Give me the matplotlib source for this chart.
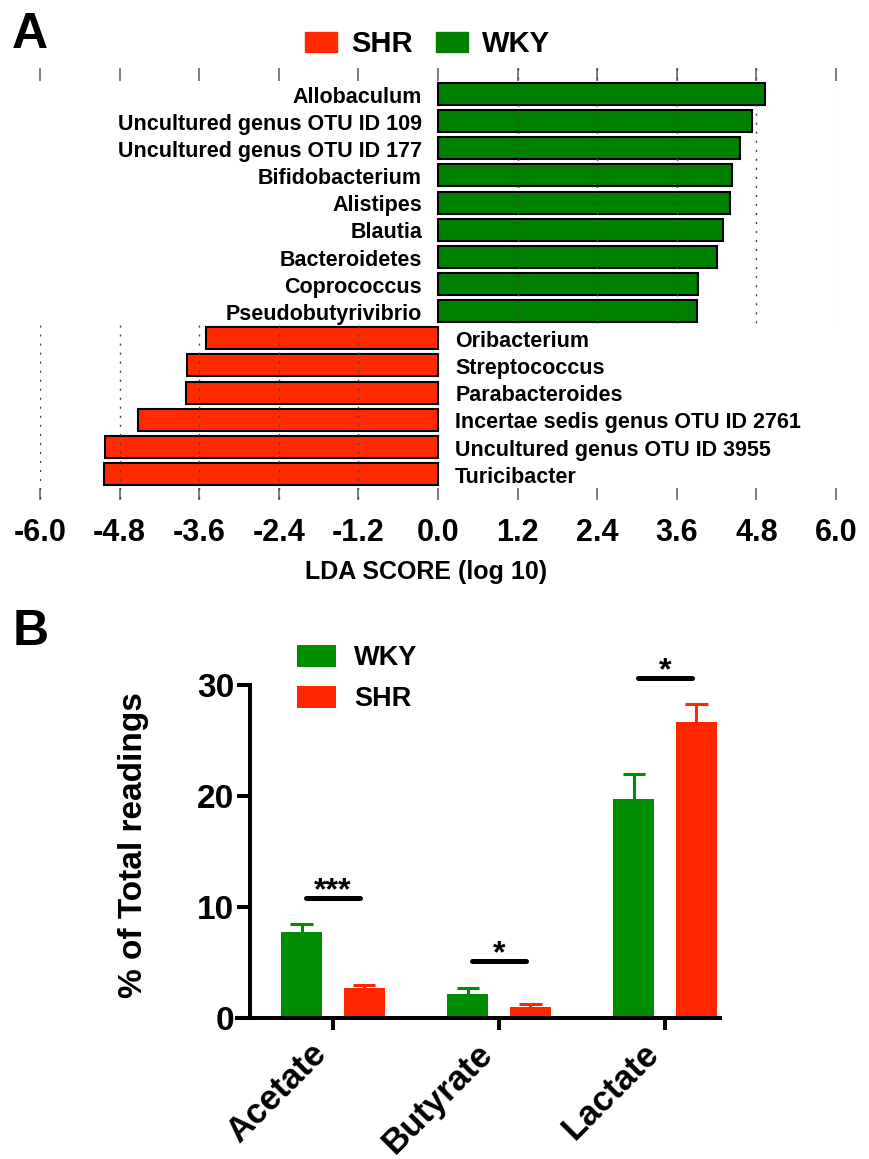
import matplotlib
matplotlib.use("Agg")
import matplotlib.pyplot as plt
from matplotlib.patches import Patch
import numpy as np

plt.rcParams['font.family'] = ['Liberation Sans', 'DejaVu Sans']
plt.rcParams['font.weight'] = 'bold'
plt.rcParams['axes.labelweight'] = 'bold'
plt.rcParams['axes.unicode_minus'] = False

W, H = 869, 1159

# panel A: LEfSe LDA scores
wky_taxa = ["Allobaculum", "Uncultured genus OTU ID 109", "Uncultured genus OTU ID 177",
            "Bifidobacterium", "Alistipes", "Blautia", "Bacteroidetes", "Coprococcus",
            "Pseudobutyrivibrio"]
wky_lda = [4.93, 4.73, 4.55, 4.43, 4.40, 4.30, 4.21, 3.92, 3.91]
shr_taxa = ["Oribacterium", "Streptococcus", "Parabacteroides",
            "Incertae sedis genus OTU ID 2761", "Uncultured genus OTU ID 3955", "Turicibacter"]
shr_lda = [-3.50, -3.78, -3.80, -4.53, -5.02, -5.04]
lda_ticks = [-6.0, -4.8, -3.6, -2.4, -1.2, 0.0, 1.2, 2.4, 3.6, 4.8, 6.0]

# panel B: SCFA readings
acids = ["Acetate", "Butyrate", "Lactate"]
wky_mean = [7.75, 2.15, 19.7]
wky_sem = [0.7, 0.55, 2.3]
shr_mean = [2.7, 1.0, 26.7]
shr_sem = [0.3, 0.3, 1.6]
stars = ["***", "*", "*"]
star_y = [10.8, 5.1, 30.6]
b_ticks = [0, 10, 20, 30]

green_a, red_a = '#008000', '#FF2A00'
green_b, red_b = '#008C00', '#FF2600'


def frac(l, t, r, b):
    return [l / W, 1 - b / H, (r - l) / W, (b - t) / H]


fig = plt.figure(figsize=(W / 100, H / 100), dpi=100)

# ---------------- A ----------------
ax = fig.add_axes(frac(40, 68, 836, 500))
n_w = len(wky_taxa)
rows_w = np.arange(n_w)
rows_s = np.arange(len(shr_taxa)) + n_w
ax.barh(rows_w, wky_lda, height=0.81, color=green_a, edgecolor='black', linewidth=1.5, zorder=2)
ax.barh(rows_s, shr_lda, height=0.81, color=red_a, edgecolor='black', linewidth=1.5, zorder=2)
ymax = rows_s[-1] + 0.958
ymin = -0.958
split = n_w - 0.5
for t in lda_ticks:
    a = 0.35 if t == 6.0 else 1.0
    if t < 0:
        ax.vlines(t, split, ymax, colors='#444444', linewidth=1.0, linestyles=(0, (1.5, 5)), zorder=3)
    elif t > 0:
        ax.vlines(t, ymin, split, colors='#444444', linewidth=1.0, linestyles=(0, (1.5, 5)), zorder=3, alpha=a)
for r, name in zip(rows_w, wky_taxa):
    ax.text(-0.24, r + 0.12, name, ha='right', va='center', fontsize=15.5)
for r, name in zip(rows_s, shr_taxa):
    ax.text(0.26, r + 0.12, name, ha='left', va='center', fontsize=15.5)
ax.set_xlim(-6, 6)
ax.set_ylim(ymax, ymin)
ax.set_xticks(lda_ticks)
ax.set_xticklabels([f"{t:.1f}" for t in lda_ticks])
ax.set_yticks([])
ax.tick_params(axis='x', direction='in', length=9, width=1.2, color='#666666',
               top=True, bottom=True, labelsize=22, pad=13)
for s in ax.spines.values():
    s.set_visible(False)
ax.set_xlabel("LDA SCORE (log 10)", fontsize=18)
ax.xaxis.set_label_coords(0.485, (500 - 572) / 432)
ax.xaxis.label.set_va('center')

fig.legend(handles=[Patch(color=red_a), Patch(color=green_a)], labels=["SHR", "WKY"],
           ncol=2, fontsize=21, frameon=False, handlelength=1.1, handleheight=0.66,
           handletextpad=0.48, columnspacing=0.8, loc='upper left',
           bbox_to_anchor=(305 / W, 1 - 30 / H), borderpad=0, borderaxespad=0)

fig.text(12 / W, 1 - 48 / H, "A", fontsize=36, va='baseline')
fig.text(13 / W, 1 - 645 / H, "B", fontsize=36, va='baseline')

# ---------------- B ----------------
bx = fig.add_axes(frac(237, 685, 720, 1018))
x = np.arange(len(acids))
off, bw, cap = 0.187, 0.247, 0.069
for xs, mean, sem, col, lab in [(x - off, wky_mean, wky_sem, green_b, "WKY"),
                                (x + off, shr_mean, shr_sem, red_b, "SHR")]:
    bx.bar(xs, mean, width=bw, color=col, label=lab, zorder=2)
    tops = np.array(mean) + np.array(sem)
    # upper error bar only, stem hidden behind the bar
    bx.vlines(xs, mean, tops, colors=col, linewidth=2.2, zorder=1)
    bx.hlines(tops, xs - cap, xs + cap, colors=col, linewidth=2.2, zorder=1)
for i, (s, sy) in enumerate(zip(stars, star_y)):
    bx.plot([i - 0.165, i + 0.165], [sy, sy], color='black', lw=3.6,
            solid_capstyle='round', clip_on=False)
    bx.text(i, sy - 0.1, s, ha='center', va='baseline', fontsize=23)
bx.set_xlim(-0.578, 2.331)
bx.set_ylim(0, 30)
bx.spines['left'].set_position(('data', -0.5))
for k in ['top', 'right']:
    bx.spines[k].set_visible(False)
for k in ['left', 'bottom']:
    bx.spines[k].set_linewidth(2.9)
bx.set_yticks(b_ticks)
bx.set_xticks(x)
bx.set_xticklabels(acids, rotation=45, ha='right', fontsize=25)
bx.tick_params(axis='y', length=9.4, width=2.9, labelsize=24, pad=2)
bx.tick_params(axis='x', length=8.6, width=2.9, pad=5)
bx.set_ylabel("% of Total readings", fontsize=24)
bx.yaxis.set_label_coords((134 - 237) / 483, 0.52)
bx.yaxis.label.set_va('center')
bx.legend(fontsize=19.5, frameon=False, handlelength=1.44, handleheight=0.85,
          handletextpad=0.67, labelspacing=0.55, loc='upper left',
          bbox_to_anchor=(297 / W, 1 - 645 / H), bbox_transform=fig.transFigure,
          borderpad=0, borderaxespad=0)

fig.savefig("out.png", dpi=100)
